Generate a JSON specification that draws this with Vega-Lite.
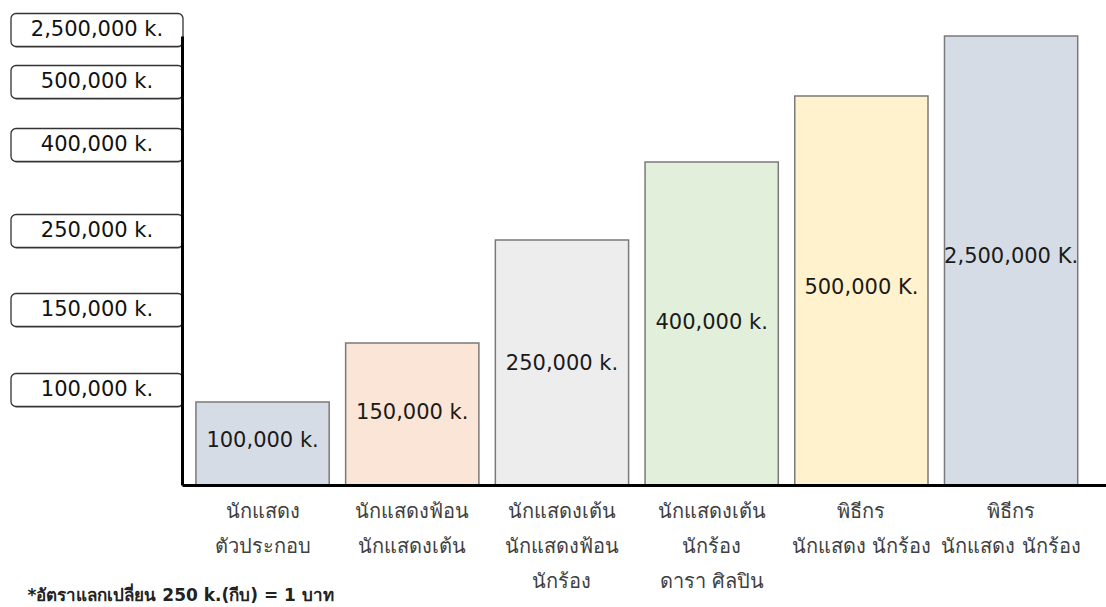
{
  "$schema": "https://vega.github.io/schema/vega-lite/v6.json",
  "width": 1106,
  "height": 485,
  "autosize": {"type": "none"},
  "padding": {"left": 0, "top": 0, "right": 0, "bottom": 122},
  "background": "white",
  "config": {"view": {"stroke": null}, "font": "DejaVu Sans"},
  "datasets": {
    "rows": [
      {"role": "นักแสดง\nตัวประกอบ", "price": 100000, "barLabel": "100,000 k.", "tickLabel": "100,000 k."},
      {"role": "นักแสดงฟ้อน\nนักแสดงเต้น", "price": 150000, "barLabel": "150,000 k.", "tickLabel": "150,000 k."},
      {"role": "นักแสดงเต้น\nนักแสดงฟ้อน\nนักร้อง", "price": 250000, "barLabel": "250,000 k.", "tickLabel": "250,000 k."},
      {"role": "นักแสดงเต้น\nนักร้อง\nดารา ศิลปิน", "price": 400000, "barLabel": "400,000 k.", "tickLabel": "400,000 k."},
      {"role": "พิธีกร\nนักแสดง นักร้อง", "price": 500000, "barLabel": "500,000 K.", "tickLabel": "500,000 k."},
      {"role": "พิธีกร\nนักแสดง นักร้อง ", "price": 2500000, "barLabel": "2,500,000 K.", "tickLabel": "2,500,000 k."}
    ]
  },
  "layer": [
    {
      "data": {"name": "rows"},
      "mark": {"type": "bar", "stroke": "#7a7a7a", "strokeWidth": 1.5},
      "encoding": {
        "x": {
          "field": "role", "type": "nominal", "sort": null,
          "scale": {"type": "band", "range": [182, 1106], "paddingInner": 0.11, "paddingOuter": 0.141, "align": 0.33},
          "axis": {
            "orient": "bottom",
            "labelExpr": "split(datum.label, '\\n')",
            "labelAngle": 0,
            "labelFontSize": 20,
            "labelColor": "#404040",
            "labelLineHeight": 35,
            "labelPadding": 16,
            "labelBaseline": "top",
            "labelOverlap": false,
            "labelLimit": 300,
            "ticks": false,
            "domainWidth": 3,
            "domainColor": "#000000",
            "zindex": 1,
            "title": "*อัตราแลกเปลี่ยน 250 k.(กีบ) = 1 บาท",
            "titleX": 27,
            "titleY": 110,
            "titleAlign": "left",
            "titleBaseline": "middle",
            "titleFontSize": 17,
            "titleFontWeight": "bold",
            "titleColor": "#222222"
          }
        },
        "y": {
          "field": "price", "type": "quantitative",
          "scale": {"domain": [0, 100000, 150000, 250000, 400000, 500000, 2500000], "range": [485, 402, 343, 240, 162, 96, 36], "nice": false},
          "axis": {"orient": "left", "offset": -182, "labels": false, "ticks": false, "grid": false, "title": null, "domainWidth": 3, "domainColor": "#000000", "zindex": 1}
        },
        "color": {
          "field": "role", "type": "nominal", "sort": null,
          "scale": {"range": ["#d6dce5", "#fbe5d6", "#ededed", "#e2efda", "#fff2cc", "#d6dce5"]},
          "legend": null
        }
      }
    },
    {
      "data": {"name": "rows"},
      "mark": {"type": "text", "fontSize": 21, "color": "#1a1a1a", "baseline": "middle", "align": "center"},
      "encoding": {
        "x": {
          "field": "role", "type": "nominal", "sort": null,
          "scale": {"type": "band", "range": [182, 1106], "paddingInner": 0.11, "paddingOuter": 0.141, "align": 0.33},
          "axis": null
        },
        "y": {
          "field": "price", "type": "quantitative",
          "scale": {"domain": [100000, 150000, 250000, 400000, 500000, 2500000], "range": [441, 413, 364, 323, 288, 257], "nice": false},
          "axis": null
        },
        "text": {"field": "barLabel"}
      }
    },
    {
      "data": {"name": "rows"},
      "mark": {"type": "rect", "height": 33, "cornerRadius": 5, "fill": "#9a9a9a", "opacity": 0.6, "xOffset": 1.5, "yOffset": 1.5},
      "encoding": {
        "x": {"datum": 0, "type": "quantitative", "scale": {"domain": [0, 1], "range": [11, 183]}, "axis": null},
        "x2": {"datum": 1},
        "y": {
          "field": "price", "type": "quantitative",
          "scale": {"domain": [100000, 150000, 250000, 400000, 500000, 2500000], "range": [390, 310, 231, 145, 82, 30], "nice": false},
          "axis": null
        }
      }
    },
    {
      "data": {"name": "rows"},
      "mark": {"type": "rect", "height": 33, "cornerRadius": 5, "fill": "#ffffff", "stroke": "#333333", "strokeWidth": 1.3},
      "encoding": {
        "x": {"datum": 0, "type": "quantitative", "scale": {"domain": [0, 1], "range": [11, 183]}, "axis": null},
        "x2": {"datum": 1},
        "y": {
          "field": "price", "type": "quantitative",
          "scale": {"domain": [100000, 150000, 250000, 400000, 500000, 2500000], "range": [390, 310, 231, 145, 82, 30], "nice": false},
          "axis": null
        }
      }
    },
    {
      "data": {"name": "rows"},
      "mark": {"type": "text", "fontSize": 21, "color": "#111111", "baseline": "middle", "align": "center"},
      "encoding": {
        "x": {"datum": 0.5, "type": "quantitative", "scale": {"domain": [0, 1], "range": [11, 183]}, "axis": null},
        "y": {
          "field": "price", "type": "quantitative",
          "scale": {"domain": [100000, 150000, 250000, 400000, 500000, 2500000], "range": [390, 310, 231, 145, 82, 30], "nice": false},
          "axis": null
        },
        "text": {"field": "tickLabel"}
      }
    }
  ],
  "resolve": {"scale": {"x": "independent", "y": "independent", "color": "independent"}}
}
